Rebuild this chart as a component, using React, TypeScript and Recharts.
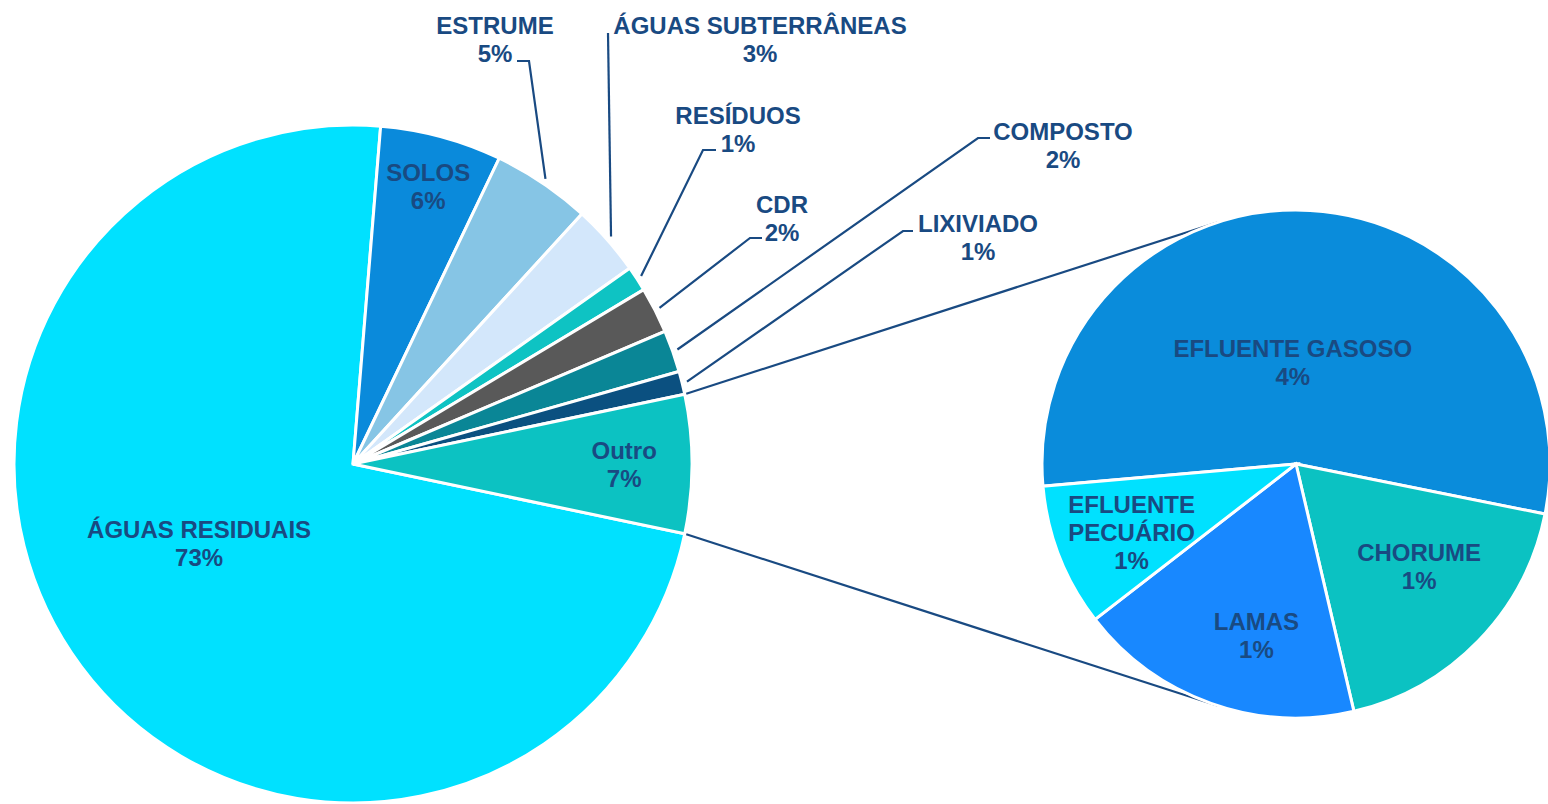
import React from "react";
import { PieChart, Pie } from "recharts";

// main pie categories (clockwise from the big slice), values in %
const CATEGORIES = [
  "ÁGUAS RESIDUAIS",
  "SOLOS",
  "ESTRUME",
  "ÁGUAS SUBTERRÂNEAS",
  "RESÍDUOS",
  "CDR",
  "COMPOSTO",
  "LIXIVIADO",
];
const VALUES = [73.0, 5.8, 4.7, 3.4, 1.2, 2.2, 2.0, 1.1];
const COLORS = ["#00E1FF", "#0A8ADB", "#86C5E5", "#D3E7FB", "#0EC3C3", "#595959", "#0A8696", "#0B5080"];

// the "Outro" slice is split out into the second pie
const OTHER_NAME = "Outro";
const OTHER_COLOR = "#0CC2C2";
const OTHER_CATEGORIES = ["EFLUENTE GASOSO", "CHORUME", "LAMAS", "EFLUENTE PECUÁRIO"];
const OTHER_VALUES = [3.6, 1.2, 1.2, 0.6];
const OTHER_COLORS = ["#0A8CDB", "#0BC2C2", "#1888FF", "#00E1FF"];

const TEXT_COLOR = "#194A82";
const FONT = "'Liberation Sans', Arial, Helvetica, sans-serif";
const FONT_SIZE = 24;
const LINE_H = 28;

const MAIN = { cx: 353, cy: 464, r: 339 };
const SUB = { cx: 1296, cy: 464, r: 254 };
const SUB_START = 185;

// label placement: inside labels by radius fraction + angle nudge,
// outside labels by offsets from the pie centre (text centre, elbow, end)
type Place =
  | { kind: "in"; r: number; da: number; wrap?: boolean }
  | { kind: "out"; tx: number; ty: number; ex: number; ey: number; hx: number };

const MAIN_PLACE: Place[] = [
  { kind: "in", r: 0.51, da: -9.6 },
  { kind: "in", r: 0.85, da: 0 },
  { kind: "out", tx: 142, ty: -425, ex: 176, ey: -403, hx: 164 },
  { kind: "out", tx: 407, ty: -425, ex: 255, ey: -431, hx: 255 },
  { kind: "out", tx: 385, ty: -335, ex: 350, ey: -314, hx: 363 },
  { kind: "out", tx: 429, ty: -246, ex: 397, ey: -226, hx: 409 },
  { kind: "out", tx: 710, ty: -319, ex: 625, ey: -326, hx: 637 },
  { kind: "out", tx: 625, ty: -227, ex: 550, ey: -233, hx: 560 },
  { kind: "in", r: 0.8, da: 0 },
];
const SUB_PLACE: Place[] = [
  { kind: "in", r: 0.4, da: 5 },
  { kind: "in", r: 0.63, da: 4.4 },
  { kind: "in", r: 0.69, da: 6.5 },
  { kind: "in", r: 0.7, da: 1, wrap: true },
];

const otherTotal = OTHER_VALUES.reduce((a, b) => a + b, 0);
const mainTotal = VALUES.reduce((a, b) => a + b, 0) + otherTotal;

const mainData = [
  ...CATEGORIES.map((name, i) => ({ name, value: VALUES[i], fill: COLORS[i] })),
  { name: OTHER_NAME, value: otherTotal, fill: OTHER_COLOR },
];
const subData = OTHER_CATEGORIES.map((name, i) => ({ name, value: OTHER_VALUES[i], fill: OTHER_COLORS[i] }));

// "Outro" is centred on the right-hand horizontal
const otherHalf = ((otherTotal / mainTotal) * 360) / 2;
const MAIN_START = -otherHalf;

const RAD = Math.PI / 180;
const polar = (cx: number, cy: number, r: number, deg: number) => ({
  x: cx + r * Math.cos(-deg * RAD),
  y: cy + r * Math.sin(-deg * RAD),
});

function tangent(p: { x: number; y: number }, upper: boolean) {
  const vx = p.x - SUB.cx;
  const vy = p.y - SUB.cy;
  const d = Math.hypot(vx, vy);
  const base = Math.atan2(vy, vx);
  const a = Math.acos(SUB.r / d);
  const t1 = { x: SUB.cx + SUB.r * Math.cos(base + a), y: SUB.cy + SUB.r * Math.sin(base + a) };
  const t2 = { x: SUB.cx + SUB.r * Math.cos(base - a), y: SUB.cy + SUB.r * Math.sin(base - a) };
  if (upper) return t1.y < t2.y ? t1 : t2;
  return t1.y > t2.y ? t1 : t2;
}

function Lines({ x, y, lines }: { x: number; y: number; lines: string[] }) {
  const y0 = y - ((lines.length - 1) * LINE_H) / 2;
  return (
    <text
      x={x}
      y={y0}
      textAnchor="middle"
      dominantBaseline="central"
      fill={TEXT_COLOR}
      fontFamily={FONT}
      fontSize={FONT_SIZE}
      fontWeight="bold"
    >
      {lines.map((l, i) => (
        <tspan key={i} x={x} y={y0 + i * LINE_H}>
          {l}
        </tspan>
      ))}
    </text>
  );
}

function makeLabel(places: Place[], names: string[]) {
  return (props: any) => {
    const { cx, cy, midAngle, outerRadius, index, value } = props;
    const place = places[index];
    const name = names[index];
    const pct = `${Math.round((value / mainTotal) * 100)}%`;
    if (place.kind === "in") {
      const p = polar(cx, cy, outerRadius * place.r, midAngle + place.da);
      const words = place.wrap ? name.split(" ") : [name];
      return <Lines key={`l-${index}`} x={p.x} y={p.y} lines={[...words, pct]} />;
    }
    const s = polar(cx, cy, outerRadius + 5, midAngle);
    const pts = `${s.x},${s.y} ${cx + place.ex},${cy + place.ey} ${cx + place.hx},${cy + place.ey}`;
    return (
      <g key={`l-${index}`}>
        <polyline points={pts} fill="none" stroke={TEXT_COLOR} strokeWidth={2.2} />
        <Lines x={cx + place.tx} y={cy + place.ty} lines={[name, pct]} />
      </g>
    );
  };
}

export default function App() {
  const pTop = polar(MAIN.cx, MAIN.cy, MAIN.r, otherHalf);
  const pBot = polar(MAIN.cx, MAIN.cy, MAIN.r, -otherHalf);
  const tTop = tangent(pTop, true);
  const tBot = tangent(pBot, false);

  return (
    <div style={{ position: "absolute", left: 0, top: 0, width: 1548, height: 804, background: "#fff" }}>
      <PieChart width={1548} height={804} margin={{ top: 0, right: 0, bottom: 0, left: 0 }}>
        <g>
          <line x1={pTop.x} y1={pTop.y} x2={tTop.x} y2={tTop.y} stroke={TEXT_COLOR} strokeWidth={2.2} />
          <line x1={pBot.x} y1={pBot.y} x2={tBot.x} y2={tBot.y} stroke={TEXT_COLOR} strokeWidth={2.2} />
        </g>
        <Pie
          data={mainData}
          dataKey="value"
          nameKey="name"
          cx={MAIN.cx}
          cy={MAIN.cy}
          outerRadius={MAIN.r}
          startAngle={MAIN_START}
          endAngle={MAIN_START - 360}
          stroke="#fff"
          strokeWidth={3}
          label={makeLabel(MAIN_PLACE, [...CATEGORIES, OTHER_NAME])}
          labelLine={false}
          isAnimationActive={false}
        />
        <Pie
          data={subData}
          dataKey="value"
          nameKey="name"
          cx={SUB.cx}
          cy={SUB.cy}
          outerRadius={SUB.r}
          startAngle={SUB_START}
          endAngle={SUB_START - 360}
          stroke="#fff"
          strokeWidth={3}
          label={makeLabel(SUB_PLACE, OTHER_CATEGORIES)}
          labelLine={false}
          isAnimationActive={false}
        />
      </PieChart>
    </div>
  );
}
